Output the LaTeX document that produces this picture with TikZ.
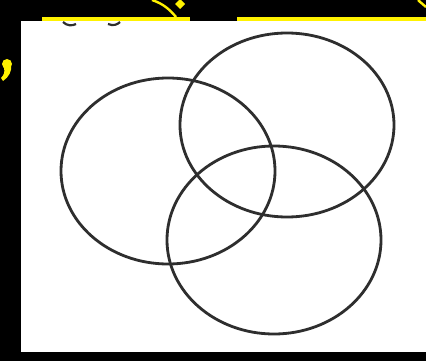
\documentclass[tikz,border=0pt]{standalone}
\usetikzlibrary{positioning}

\definecolor{ringgray}{HTML}{2E2E2E}
\definecolor{markyellow}{HTML}{FFF200}

\tikzset{
  ring/.style={draw=ringgray, line width=2.8pt},
  yellowbar/.style={fill=markyellow, draw=none},
  yellowline/.style={draw=markyellow, line width=2.4pt},
}

\begin{document}
\begin{tikzpicture}[x=1pt, y=-1pt]
            % background and white card
            \useasboundingbox (0,0) rectangle (426,361);
            \fill[black] (0,0) rectangle (426,361);
            \fill[white] (21,21) rectangle (426,352);

            % cut-off marks along the top edge
            \fill[yellowbar] (42,17) rectangle (190,21);
            \fill[yellowbar] (237,17) rectangle (426,21);
            \draw[yellowline] (152,0) .. controls (164,4) and (170,10) .. (176,17);
            \fill[markyellow] (180,-1) -- (185,4) -- (180,9) -- (175,4) -- cycle;
            \draw[yellowline] (418,0) .. controls (421,3) and (424,5) .. (426,7);
            \fill[markyellow] (7,64) circle (5);
            \fill[markyellow] (11,65) .. controls (12,71) and (9,77) .. (3,81)
                -- (1,78) .. controls (4,75) and (5,72) .. (4,68) -- cycle;
            \draw[ringgray, line width=2.2pt] (63,22) .. controls (67,26) and (72,26) .. (76,24);
            \draw[ringgray, line width=2.2pt] (108,24) .. controls (113,26) and (117,25) .. (120,22);

            % the three sets
            \draw[ring] (168,171) ellipse [x radius=107, y radius=93];
            \draw[ring] (287,125) ellipse [x radius=107, y radius=92];
            \draw[ring] (274,240) ellipse [x radius=107, y radius=94];
\end{tikzpicture}
\end{document}
